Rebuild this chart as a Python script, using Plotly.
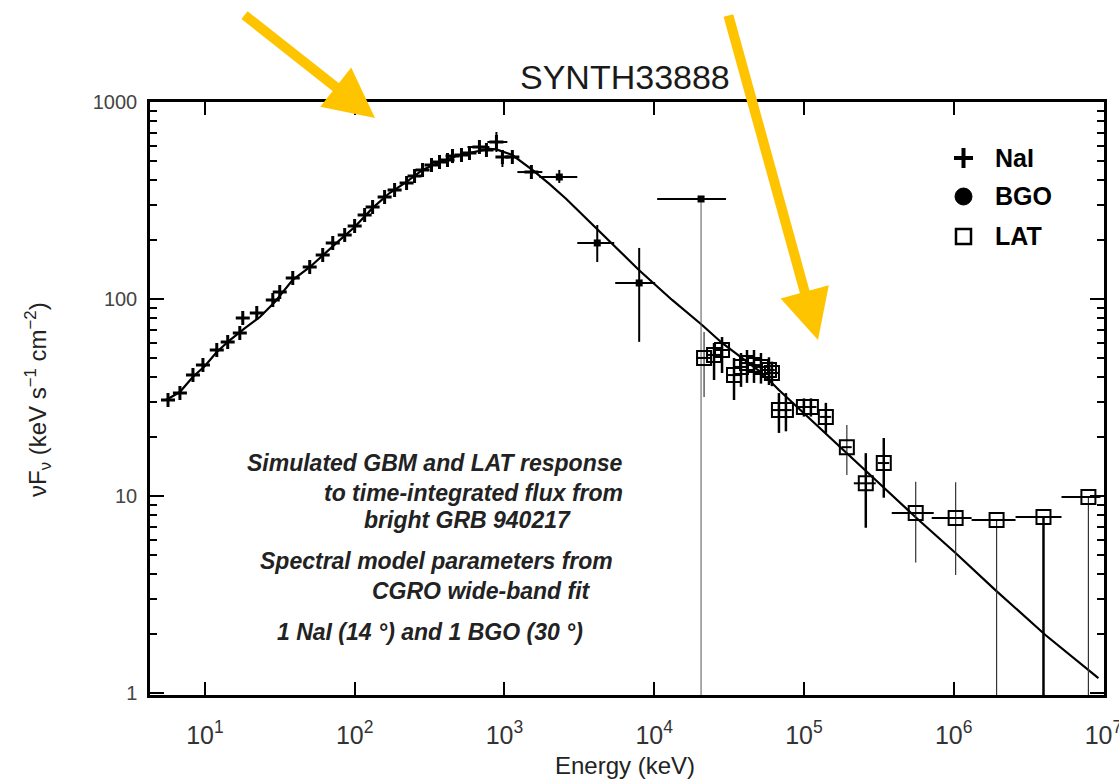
import plotly.graph_objects as go

# ---------------- data ----------------
MODEL_E = [5.5, 6.8, 8.3, 10, 12, 14.7, 18.5, 23.3, 29.3, 38.6, 50.1, 61.2, 79.4, 100, 132, 171, 222,
           284, 369, 501, 681, 790, 884, 1130, 1537, 1995, 2590, 4105, 7943, 13180, 20890, 28400,
           52480, 68100, 125900, 190500, 316000, 584000, 1030000, 1900000, 4100000, 9260000]
MODEL_F = [30.7, 33.7, 40.2, 45.7, 53.8, 61.9, 71.2, 81, 96.6, 125, 145, 167, 199, 232, 290, 345, 393,
           452, 496, 538, 568, 578, 575, 538, 452, 384, 322, 228, 140, 98.9, 73.8, 59.8,
           42.1, 34.5, 22.4, 16.7, 11.6, 7.55, 5.14, 3.33, 1.97, 1.19]

NAI_E = [5.67, 6.81, 8.32, 9.70, 12.0, 14.2, 17.1, 17.9, 22.2, 28.4, 31.6, 38.6, 50.1, 61.2, 71.4, 85.8,
         100, 116.6, 131.8, 158.5, 184.8, 222.2, 251.2, 284, 326, 368.7, 416.9, 450.3, 516.8, 584.5,
         681, 758.6, 884.6, 970, 1130, 1514]
NAI_F = [30.7, 33.3, 41.1, 46.2, 55.1, 60.5, 67.2, 80.1, 84.9, 98.8, 108.5, 127.8, 145.3, 167.2, 192.5,
         211.3, 234.8, 267, 293, 329.5, 357.5, 388, 421, 451.6, 478.8, 496, 507.6, 531.8, 538, 551,
         591, 570.7, 626.5, 525.9, 525.9, 441]
NAI_DE_PLUS = [0] * 30 + [113, 0, 162, 0, 0, 278]
NAI_DE_MINUS = [0] * 30 + [114, 0, 115, 0, 0, 293]
NAI_DF_PLUS = [0] * 27 + [45, 0, 0, 0, 0, 78, 45, 0, 0]
NAI_DF_MINUS = [0] * 27 + [42, 0, 0, 0, 0, 69, 58, 0, 0]

BGO_E = [2326, 4169, 7943, 20570]
BGO_F = [416, 192.5, 120.6, 321.9]
BGO_DE_MINUS = [615, 1102, 2448, 10099]
BGO_DE_PLUS = [741, 1243, 2211, 9630]
BGO_DF_PLUS = [36, 45, 61, 0]
BGO_DF_MINUS = [28, 38.4, 60, 321.4]

LAT_E = [21544, 25119, 28400, 34145, 38019, 41687, 46416, 51667, 58434, 61180, 68129, 75858, 100000,
         111350, 140170, 193550, 259000, 341500, 558000, 1031000, 1935000, 3980000, 7940000]
LAT_F = [50.2, 52.0, 55.1, 41.1, 45.2, 47.3, 46.2, 45.2, 43.6, 42.1, 27.3, 27.3, 28.3, 28.3, 25.2,
         17.7, 11.6, 14.7, 8.2, 7.73, 7.55, 7.82, 9.89]
LAT_DF_PLUS = [17.8, 7.8, 9, 9.1, 8, 7.8, 8.9, 8, 7, 6, 6, 6, 3, 3, 4.5, 5.2, 4.9, 5, 3.6, 4.0, 0, 0, 0]
LAT_DF_MINUS = [18.4, 13.2, 13, 10.4, 9.4, 9.8, 8.7, 8, 7, 6, 6.4, 6, 3, 3, 4.3, 4.9, 4.7, 4.9, 3.6,
                3.76, 7.05, 7.32, 9.39]
LAT_DE_PLUS = [2500, 2800, 3000, 3500, 3800, 4000, 4500, 5000, 5500, 6000, 6500, 7000, 9000, 10000,
               12000, 15000, 43000, 30000, 178000, 287000, 655000, 1270000, 1610000]
LAT_DE_MINUS = [2500, 2800, 3000, 3500, 3800, 4000, 4500, 5000, 5500, 6000, 6500, 7000, 9000, 10000,
                12000, 15000, 43600, 30000, 172000, 317500, 617000, 1390000, 2690000]

X_TICKS = [10, 100, 1000, 1e4, 1e5, 1e6, 1e7]
X_TICKTEXT = ["10<sup>1</sup>", "10<sup>2</sup>", "10<sup>3</sup>", "10<sup>4</sup>",
              "10<sup>5</sup>", "10<sup>6</sup>", "10<sup>7</sup>"]
Y_TICKS = [1, 10, 100, 1000]
Y_TICKTEXT = ["1", "10", "100", "1000"]
Y_MINOR = [2, 3, 4, 5, 6, 7, 8, 9, 20, 30, 40, 50, 60, 70, 80, 90, 200, 300, 400, 500, 600, 700, 800, 900]

TEXT_LINES = ["Simulated GBM and LAT response", "to time-integrated flux from", "bright GRB 940217",
              "Spectral model parameters from", "CGRO wide-band fit", "1 NaI (14 °) and 1 BGO (30 °)"]
LEGEND_LABELS = ["NaI", "BGO", "LAT"]

# ---------------- layout helpers (pixel geometry) ----------------
W, H = 1119, 780
L, R, T, B = 150, 1104, 102, 695


def px(x):
    return (x - L) / (R - L)


def py(y):
    return (B - y) / (B - T)


def sel(arr, idx):
    return [arr[i] for i in idx]


fig = go.Figure()

# model curve
fig.add_trace(go.Scatter(x=MODEL_E, y=MODEL_F, mode="lines",
                         line=dict(color="black", width=2.2), showlegend=False, hoverinfo="skip"))

# NaI
fig.add_trace(go.Scatter(
    x=NAI_E, y=NAI_F, mode="markers",
    marker=dict(symbol="cross-thin", size=10, line=dict(color="black", width=3)),
    error_x=dict(type="data", symmetric=False, array=NAI_DE_PLUS, arrayminus=NAI_DE_MINUS,
                 color="black", thickness=2, width=0),
    error_y=dict(type="data", symmetric=False, array=NAI_DF_PLUS, arrayminus=NAI_DF_MINUS,
                 color="black", thickness=2, width=0),
    showlegend=False))

# BGO (first three thick, last with thin vertical)
for idx, yth, ycol in [([0, 1, 2], 2, "black"), ([3], 1, "#555555")]:
    fig.add_trace(go.Scatter(
        x=sel(BGO_E, idx), y=sel(BGO_F, idx), mode="markers",
        marker=dict(symbol="square", size=7, color="black"),
        error_x=dict(type="data", symmetric=False, array=sel(BGO_DE_PLUS, idx),
                     arrayminus=sel(BGO_DE_MINUS, idx), color="black", thickness=2, width=0),
        error_y=dict(type="data", symmetric=False, array=sel(BGO_DF_PLUS, idx),
                     arrayminus=sel(BGO_DF_MINUS, idx), color=ycol, thickness=yth, width=0),
        showlegend=False))

# LAT
thin = [0, 15, 18, 19, 20, 22]
thick = [i for i in range(len(LAT_E)) if i not in thin]
for idx, yth, ycol in [(thick, 2.5, "black"), (thin, 1.2, "#333333")]:
    fig.add_trace(go.Scatter(
        x=sel(LAT_E, idx), y=sel(LAT_F, idx), mode="markers",
        marker=dict(symbol="square-open", size=14, color="black", line=dict(width=2)),
        error_x=dict(type="data", symmetric=False, array=sel(LAT_DE_PLUS, idx),
                     arrayminus=sel(LAT_DE_MINUS, idx), color="black", thickness=2, width=0),
        error_y=dict(type="data", symmetric=False, array=sel(LAT_DF_PLUS, idx),
                     arrayminus=sel(LAT_DF_MINUS, idx), color=ycol, thickness=yth, width=0),
        showlegend=False))

annotations = []


def note(x, y, text, size, color="#222", xanchor="center", **kw):
    annotations.append(dict(x=px(x), y=py(y), xref="paper", yref="paper", text=text,
                            xanchor=xanchor, yanchor="middle", showarrow=False,
                            font=dict(family="Liberation Sans", size=size, color=color), **kw))


# title
note(625, 77, "SYNTH33888", 34, color="#1a1a1a")
# axis titles
note(625, 765, "Energy (keV)", 24)
note(38, 400, "νF<sub>ν</sub> (keV s<sup>−1</sup> cm<sup>−2</sup>)", 24, textangle=-90)
# text block
text_pos = [(245, 463), (322, 493), (362, 520), (258, 561), (370, 591), (275, 632)]
for t, (x0, y0) in zip(TEXT_LINES, text_pos):
    note(x0, y0, "<b><i>" + t + "</i></b>", 23, xanchor="left")
# legend labels
for lab, y0 in zip(LEGEND_LABELS, [158, 196, 236]):
    note(993, y0, "<b>" + lab + "</b>", 25, color="black", xanchor="left")
# yellow arrows
for (tx, ty), (sx, sy) in [((375, 118), (243, 14)), ((818, 340), (728, 14))]:
    annotations.append(dict(x=px(tx), y=py(ty), xref="paper", yref="paper", ax=sx - tx, ay=sy - ty,
                            axref="pixel", ayref="pixel", text="", showarrow=True, arrowhead=2,
                            arrowsize=1.0, arrowwidth=10, arrowcolor="#FFC400", standoff=0))

shapes = [
    dict(type="line", xref="paper", yref="paper", x0=px(954), x1=px(973), y0=py(158), y1=py(158),
         line=dict(color="black", width=4)),
    dict(type="line", xref="paper", yref="paper", x0=px(963.5), x1=px(963.5), y0=py(148), y1=py(168),
         line=dict(color="black", width=4)),
    dict(type="circle", xref="paper", yref="paper", x0=px(955), x1=px(972), y0=py(188), y1=py(205),
         fillcolor="black", line=dict(color="black", width=1)),
    dict(type="rect", xref="paper", yref="paper", x0=px(956), x1=px(971), y0=py(229), y1=py(244),
         line=dict(color="black", width=2.5)),
]

fig.update_layout(
    width=W, height=H,
    margin=dict(l=L, r=W - R, t=T, b=H - B, autoexpand=False),
    paper_bgcolor="white", plot_bgcolor="white",
    showlegend=False,
    annotations=annotations, shapes=shapes,
    xaxis=dict(type="log", range=[1 + (L - 205) / 150, 7.004], automargin=False,
               tickvals=X_TICKS, ticktext=X_TICKTEXT, ticks="inside", ticklen=13, tickwidth=2,
               tickcolor="black", showline=True, linecolor="black", linewidth=2.5, mirror="allticks",
               showgrid=False, zeroline=False, ticklabelstandoff=16, ticklabeloverflow="allow",
               tickfont=dict(family="Liberation Sans", size=25, color="#333")),
    yaxis=dict(type="log", range=[(693 - B) / 197, (693 - T) / 197], automargin=False,
               tickvals=Y_TICKS, ticktext=Y_TICKTEXT, ticks="inside", ticklen=14, tickwidth=2,
               tickcolor="black", showline=True, linecolor="black", linewidth=2.5, mirror="allticks",
               showgrid=False, zeroline=False, ticklabelstandoff=6,
               minor=dict(tickvals=Y_MINOR, ticks="inside", ticklen=7, tickwidth=1.5,
                          tickcolor="black", showgrid=False),
               tickfont=dict(family="Liberation Sans", size=20, color="#444")),
)

fig.write_html("out.html")
